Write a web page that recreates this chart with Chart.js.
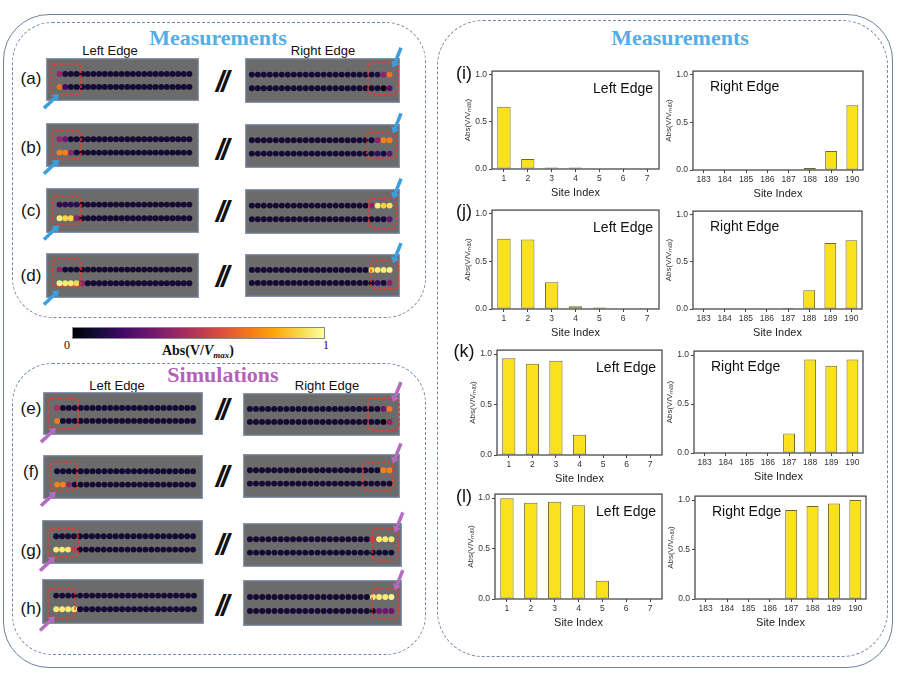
<!DOCTYPE html>
<html><head><meta charset="utf-8">
<script src="https://cdn.jsdelivr.net/npm/chart.js@4"></script>
<style>
body{margin:0;background:#fff;}
#root{position:relative;width:897px;height:673px;overflow:hidden;font-family:"Liberation Sans",Arial,sans-serif;color:#111;}
.box{position:absolute;box-sizing:border-box;}
.lbl{position:absolute;white-space:nowrap;line-height:1;}
canvas{position:absolute;}
.title{font-family:"Liberation Serif","Times New Roman",serif;font-weight:bold;font-size:22px;}
</style></head>
<body><div id="root">
<div class="box" style="left:3px;top:14px;width:890px;height:654px;border:1.3px solid #6a82a0;border-radius:46px;"></div>
<div class="box" style="left:12px;top:22px;width:414px;height:296px;border:1.3px dashed #7588a0;border-radius:40px;"></div>
<div class="box" style="left:12px;top:363px;width:414px;height:292px;border:1.3px dashed #7588a0;border-radius:40px;"></div>
<div class="box" style="left:437px;top:20px;width:451px;height:637px;border:1.3px dashed #7588a0;border-radius:46px;"></div>
<div class="box" style="left:72px;top:327px;width:253px;height:12px;border:1px solid #888;background:linear-gradient(to right,#000004,#160b39 10%,#420a68 20%,#6a176e 30%,#932667 40%,#bc3754 50%,#dd513a 60%,#f37819 70%,#fca50a 80%,#f6d746 90%,#fcffa4);"></div>
</div>
<script>
// ---------- data ----------
const siteLeft = ['1','2','3','4','5','6','7'];
const siteRight = ['183','184','185','186','187','188','189','190'];
const iLeft  = [0.66, 0.105, 0.015, 0.015, 0.006, 0.002, 0.002];
const iRight = [0.0, 0.004, 0.006, 0.006, 0.006, 0.02, 0.20, 0.68];
const jLeft  = [0.74, 0.73, 0.28, 0.03, 0.015, 0.006, 0.003];
const jRight = [0.0, 0.004, 0.006, 0.006, 0.012, 0.20, 0.70, 0.73];
const kLeft  = [0.96, 0.905, 0.935, 0.20, 0.006, 0.006, 0.003];
const kRight = [0.0, 0.0, 0.006, 0.006, 0.20, 0.955, 0.89, 0.955];
const lLeft  = [1.0, 0.955, 0.965, 0.93, 0.18, 0.006, 0.003];
const lRight = [0.0, 0.004, 0.004, 0.004, 0.90, 0.94, 0.965, 1.0];
const yTicks = [0, 0.5, 1.0];

// dot arrays: values of the lit sites (left panels: first sites; right panels: last sites)
const BG = 0.09, N = 24;
const aLT=[0.40,0.12], aLB=[0.68,0.20], aRT=[0.12,0.38,0.68], aRB=[0.10,0.02,0.25];
const bLT=[0.40,0.30], bLB=[0.72,0.72,0.38], bRT=[0.38,0.72,0.72], bRB=[0.18,0.10,0.28];
const cLT=[0.15,0.15,0.15,0.15], cLB=[0.96,0.90,0.90,0.38], cRT=[0.38,0.96,0.88,0.92], cRB=[0.10,0.28];
const dLT=[0.38], dLB=[0.97,0.95,0.95,0.90,0.38], dRT=[0.90,0.95,0.95,0.97], dRB=[0.18,0.10,0.38];
const eLT=[0.45], eLB=[0.70], eRT=[0.30,0.70], eRB=[0.0,0.38];
const fLT=[], fLB=[0.72,0.72,0.40], fRT=[0.72,0.72], fRB=[];
const gLT=[], gLB=[0.95,0.95,0.95,0.52], gRT=[0.52,0.95,0.95,0.95], gRB=[];
const hLT=[], hLB=[0.95,0.95,0.95,0.95], hRT=[0.95,0.95,0.95,0.98], hRB=[0.30,0.30,0.30];

// ---------- helpers ----------
const root = document.getElementById('root');
const INF=['#000004','#160b39','#420a68','#6a176e','#932667','#bc3754','#dd513a','#f37819','#fca50a','#f6d746','#fcffa4'];
function hex(h){return [1,3,5].map(i=>parseInt(h.substr(i,2),16));}
function inferno(v){v=Math.max(0,Math.min(1,v));const p=v*10,i=Math.min(9,Math.floor(p)),t=p-i;const a=hex(INF[i]),b=hex(INF[i+1]);return 'rgb('+a.map((x,k)=>Math.round(x+(b[k]-x)*t)).join(',')+')';}
function padL(a){return a.concat(Array(N-a.length).fill(BG));}
function padR(a){return Array(N-a.length).fill(BG).concat(a);}
function label(text,x,y,style,anchor){
  const d=document.createElement('div');d.className='lbl';d.innerHTML=text;
  d.style.cssText+=style||'';
  d.style.left=x+'px';d.style.top=y+'px';
  d.style.transform=anchor||'translate(-50%,-50%)';
  root.appendChild(d);return d;
}
function mkCanvas(x,y,w,h,z){
  const c=document.createElement('canvas');c.width=w;c.height=h;
  c.style.left=x+'px';c.style.top=y+'px';c.style.width=w+'px';c.style.height=h+'px';
  if(z)c.style.zIndex=z;root.appendChild(c);return c;
}
const frame={id:'frame',afterDatasetsDraw(ch){const a=ch.chartArea,ctx=ch.ctx;ctx.save();ctx.strokeStyle='#4a4a4a';ctx.lineWidth=1.3;ctx.strokeRect(a.left,a.top,a.right-a.left,a.bottom-a.top);ctx.restore();}};
function makeBar(px0,py0,px1,py1,labels,values){
  const YW=31,XH=31,PT=6,PR=6;
  const c=mkCanvas(px0-YW,py0-PT,px1-px0+YW+PR,py1-py0+PT+XH);
  new Chart(c,{type:'bar',
    data:{labels:labels,datasets:[{data:values,backgroundColor:'#f9e11c',borderColor:'#6f6830',borderWidth:1,borderSkipped:false,barPercentage:0.56,categoryPercentage:1}]},
    options:{responsive:false,animation:false,devicePixelRatio:1,
      layout:{padding:{top:PT,right:PR,left:0,bottom:0}},
      plugins:{legend:{display:false},tooltip:{enabled:false}},
      scales:{
        x:{grid:{display:true,drawOnChartArea:false,tickLength:3,color:'#444',offset:false},border:{display:false},
           ticks:{font:{size:8.5,family:'Liberation Sans'},color:'#333',padding:2,maxRotation:0,autoSkip:false},
           title:{display:true,text:'Site Index',font:{size:11,family:'Liberation Sans'},color:'#222',padding:{top:3,bottom:0}},
           afterFit(s){s.height=XH;}},
        y:{min:0,max:1.04,afterBuildTicks(s){s.ticks=yTicks.map(v=>({value:v}));},
           ticks:{callback:v=>Number(v).toFixed(1),font:{size:8.5,family:'Liberation Sans'},color:'#333',padding:2},
           grid:{drawOnChartArea:false,tickLength:3,color:'#444'},border:{display:false},
           title:{display:true,text:'Abs(V/Vₘₐₓ)',font:{size:8,family:'Liberation Sans'},color:'#333',padding:{top:2,bottom:1}},
           afterFit(s){s.width=YW;}}
      }},
    plugins:[frame]});
}
const panelBg={id:'panelBg',beforeDraw(ch){const ctx=ch.ctx;ctx.save();ctx.fillStyle='#6b6b6b';ctx.fillRect(0,0,ch.width,ch.height);ctx.strokeStyle='#8595b0';ctx.lineWidth=1.5;ctx.strokeRect(0.5,0.5,ch.width-1,ch.height-1);ctx.restore();}};
function makeDots(r,side,top,bottom){
  const [x,y,w,h]=r;
  const f1=side==='L'?0.072:0.026, f2=side==='L'?0.955:0.95;
  const R=(N-1)/(f2-f1), mn=1-f1*R;
  const c=mkCanvas(x,y,w,h);
  const ds=(vals,row)=>({data:vals.map((v,i)=>({x:i+1,y:row})),pointBackgroundColor:vals.map(inferno),pointRadius:2.95,pointBorderWidth:0,pointHoverRadius:2.95});
  new Chart(c,{type:'scatter',data:{datasets:[ds(top,2),ds(bottom,1)]},
    options:{responsive:false,animation:false,devicePixelRatio:1,layout:{padding:0},
      plugins:{legend:{display:false},tooltip:{enabled:false}},
      scales:{x:{display:false,min:mn,max:mn+R},y:{display:false,min:0.14,max:3.0}}},
    plugins:[panelBg]});
}

// ---------- layout ----------
const meas=[
 {lab:'(a)',L:[46,58,153,43],R:[245,58,155,45],ly:78,sy:82,redL:[51,64,30,30],redR:[368,63,30,31],d:[aLT,aLB,aRT,aRB]},
 {lab:'(b)',L:[46,123,153,44],R:[245,124,155,44],ly:147,sy:150,redL:[52,131,29,28],redR:[367,132,29,27],d:[bLT,bLB,bRT,bRB]},
 {lab:'(c)',L:[46,188,153,45],R:[245,189,155,45],ly:210,sy:212,redL:[52,197,29,27],redR:[369,198,27,30],d:[cLT,cLB,cRT,cRB]},
 {lab:'(d)',L:[46,253,153,45],R:[245,254,155,43],ly:275,sy:277,redL:[53,259,28,28],redR:[371,260,27,29],d:[dLT,dLB,dRT,dRB]},
];
const sims=[
 {lab:'(e)',L:[43,392,160,43],R:[243,393,157,43],ly:408,sy:410,redL:[48,398,30,30],redR:[368,398,31,32],d:[eLT,eLB,eRT,eRB]},
 {lab:'(f)',L:[43,455,160,44],R:[243,454,157,44],ly:471,sy:477,redL:[50,463,27,27],redR:[363,463,30,27],d:[fLT,fLB,fRT,fRB]},
 {lab:'(g)',L:[42,520,161,44],R:[243,523,159,44],ly:550,sy:545,redL:[48,529,30,28],redR:[372,529,26,31],d:[gLT,gLB,gRT,gRB]},
 {lab:'(h)',L:[42,579,162,45],R:[243,580,159,46],ly:608,sy:606,redL:[48,588,27,30],redR:[372,588,26,30],d:[hLT,hLB,hRT,hRB]},
];

label('Measurements',218,38,'color:#55ade6;','translate(-50%,-50%)').className+=' title';
label('Measurements',680,38,'color:#55ade6;','translate(-50%,-50%)').className+=' title';
label('Simulations',223,375,'color:#b363b6;','translate(-50%,-50%)').className+=' title';
label('Left Edge',110,50,'font-size:13px;');
label('Right Edge',323,50,'font-size:13px;');
label('Left Edge',117,385,'font-size:13px;');
label('Right Edge',327,385,'font-size:13px;');
label('0',67,345,'font-family:Liberation Serif;font-size:12px;');
label('1',326,345,'font-family:Liberation Serif;font-size:12px;');
label('<b>Abs(V/<i>V</i><sub style="font-size:9px"><i>max</i></sub>)</b>',198,352,'font-family:Liberation Serif;font-size:14px;');

const overlay=[];
function drawSet(list,arrowColor){
  list.forEach(p=>{
    makeDots(p.L,'L',padL(p.d[0]),padL(p.d[1]));
    makeDots(p.R,'R',padR(p.d[2]),padR(p.d[3]));
    label(p.lab,31,p.ly,'font-size:17px;');
    label('//',221,p.sy,'font-size:30px;font-weight:bold;font-style:italic;letter-spacing:-3px;');
    overlay.push({p,arrowColor});
  });
}
drawSet(meas,'#3d9fe0');
drawSet(sims,'#b36cc0');

// bar charts
const bars=[
 ['(i)',[492,70,659,169],[693,70,863,170],iLeft,iRight,73],
 ['(j)',[492,209,659,309],[693,210,862,309],jLeft,jRight,211],
 ['(k)',[497,349,662,455],[694,350,863,453],kLeft,kRight,351],
 ['(l)',[495,493,662,599],[695,495,866,599],lLeft,lRight,496],
];
bars.forEach(b=>{
  const [lab,L,R,dl,dr,ly]=b;
  makeBar(L[0],L[1],L[2],L[3],siteLeft,dl);
  makeBar(R[0],R[1],R[2],R[3],siteRight,dr);
  label(lab,464,ly,'font-size:18px;z-index:5;');
  label('Left Edge',L[2]-6,L[1]+18,'font-size:14px;z-index:5;','translate(-100%,-50%)');
  label('Right Edge',R[0]+17,R[1]+16,'font-size:14px;z-index:5;','translate(0,-50%)');
});

// overlay: red boxes and arrows
const oc=mkCanvas(0,0,897,673,10);oc.style.pointerEvents='none';
const ctx=oc.getContext('2d');
function rr(x,y,w,h,r){ctx.beginPath();ctx.moveTo(x+r,y);ctx.arcTo(x+w,y,x+w,y+h,r);ctx.arcTo(x+w,y+h,x,y+h,r);ctx.arcTo(x,y+h,x,y,r);ctx.arcTo(x,y,x+w,y,r);ctx.closePath();}
function arrow(x0,y0,x1,y1,col){
  const a=Math.atan2(y1-y0,x1-x0),hl=6,hw=4.5;
  const bx=x1-hl*Math.cos(a),by=y1-hl*Math.sin(a);
  ctx.strokeStyle=col;ctx.fillStyle=col;ctx.lineWidth=3.5;ctx.lineCap='butt';
  ctx.beginPath();ctx.moveTo(x0,y0);ctx.lineTo(bx,by);ctx.stroke();
  ctx.beginPath();ctx.moveTo(x1,y1);ctx.lineTo(bx+hw*Math.sin(a),by-hw*Math.cos(a));ctx.lineTo(bx-hw*Math.sin(a),by+hw*Math.cos(a));ctx.closePath();ctx.fill();
}
overlay.forEach(o=>{
  const p=o.p;
  ctx.save();ctx.setLineDash([3,2]);ctx.strokeStyle='#f0382e';ctx.lineWidth=1.4;
  [p.redL,p.redR].forEach(r=>{rr(r[0],r[1],r[2],r[3],4);ctx.stroke();});
  ctx.restore();
  const L=p.L,R=p.R;
  const hx=L[0]+13,hy=L[1]+0.7*L[3]+6;
  arrow(hx-15,hy+14,hx,hy,o.arrowColor);
  const rx=R[0]+0.955*R[2],ry=R[1]+0.35*R[3]-6;
  arrow(rx+8,ry-20,rx,ry,o.arrowColor);
});
</script>
</body></html>
